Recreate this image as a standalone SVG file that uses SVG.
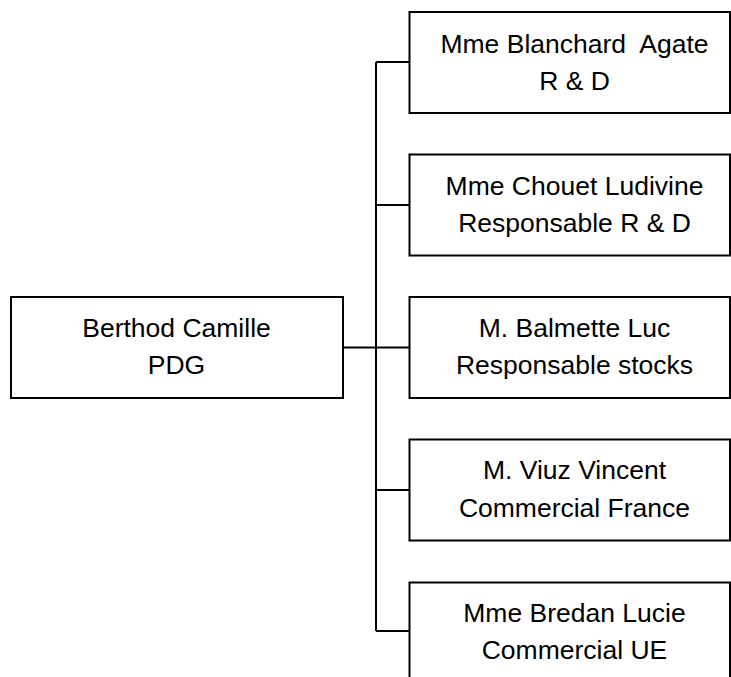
<svg xmlns="http://www.w3.org/2000/svg" width="731" height="677" viewBox="0 0 731 677">
<style>
.box{fill:#fff;stroke:#000;stroke-width:2}
.conn{fill:none;stroke:#000;stroke-width:2}
text{font-family:"Liberation Sans",Arial,sans-serif;font-size:26.5px;fill:#000;text-anchor:middle}
</style>
<rect width="731" height="677" fill="#fff"/>
<g id="connectors">
<path class="conn" d="M343,347.5 H409.5 M376,62 V631 M376,62 H409.5 M376,205 H409.5 M376,490 H409.5 M376,631 H409.5"/>
</g>
<g id="n0">
<rect class="box" x="11" y="297" width="332" height="101"/>
<text x="176.5" y="336.5">Berthod Camille</text>
<text x="176.5" y="374">PDG</text>
</g>
<g id="n1">
<rect class="box" x="409.5" y="12" width="320.5" height="101"/>
<text x="574.5" y="53" xml:space="preserve">Mme Blanchard  Agate</text>
<text x="574.5" y="90">R &amp; D</text>
</g>
<g id="n2">
<rect class="box" x="409.5" y="154.5" width="320.5" height="101"/>
<text x="574.5" y="194.5">Mme Chouet Ludivine</text>
<text x="574.5" y="231.5">Responsable R &amp; D</text>
</g>
<g id="n3">
<rect class="box" x="409.5" y="297" width="320.5" height="101"/>
<text x="574.5" y="336.5">M. Balmette Luc</text>
<text x="574.5" y="374">Responsable stocks</text>
</g>
<g id="n4">
<rect class="box" x="409.5" y="439.5" width="320.5" height="101"/>
<text x="574.5" y="479">M. Viuz Vincent</text>
<text x="574.5" y="516.5">Commercial France</text>
</g>
<g id="n5">
<rect class="box" x="409.5" y="582.5" width="320.5" height="101"/>
<text x="574.5" y="622">Mme Bredan Lucie</text>
<text x="574.5" y="659">Commercial UE</text>
</g>
</svg>
